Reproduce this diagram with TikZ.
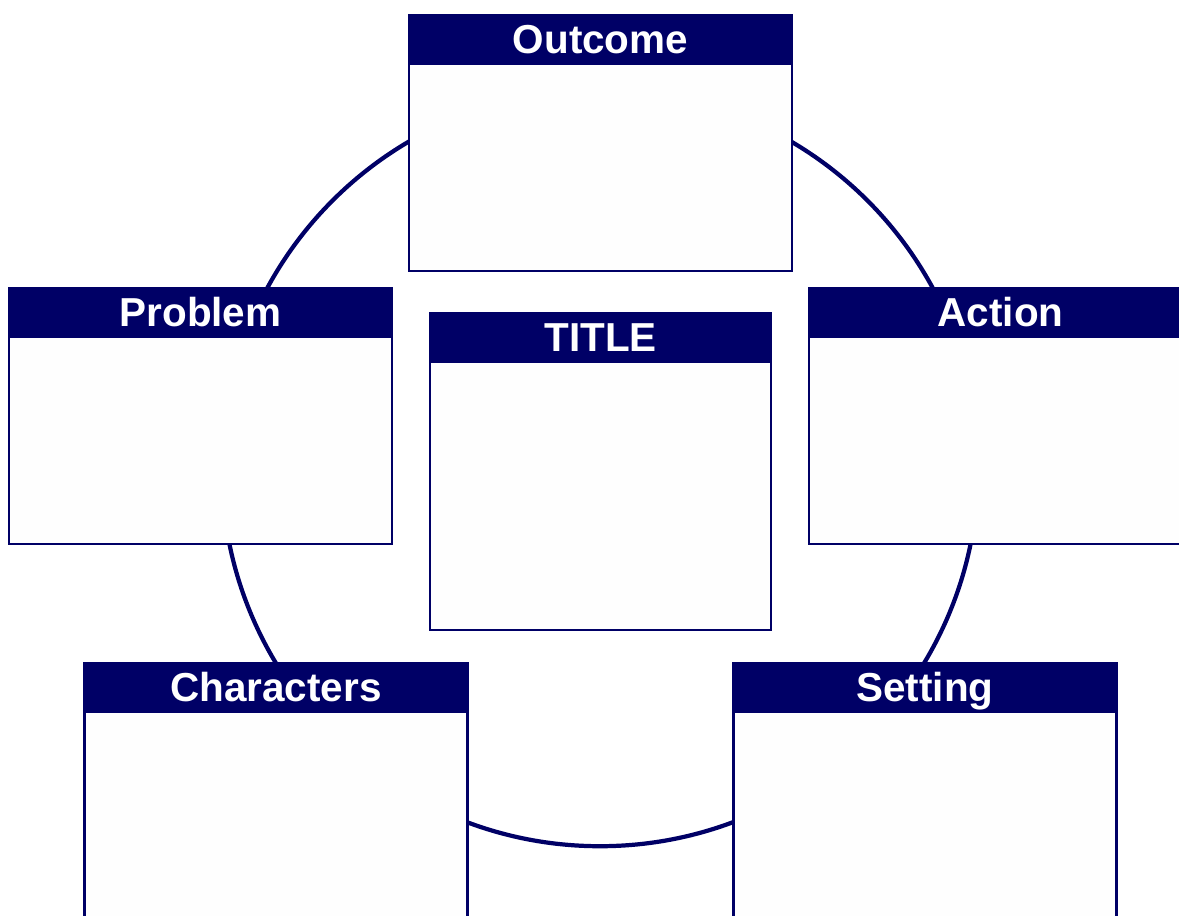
\documentclass[tikz,border=0pt]{standalone}
\usepackage{fontspec}
\setmainfont{Liberation Sans}
\definecolor{navy}{RGB}{0,0,102}
\begin{document}
\begin{tikzpicture}[x=0.01cm, y=-0.01cm,
ringline/.style={circle, draw=navy, line width=1.2pt, minimum size=7.56cm},
panel/.style={rectangle, draw=navy, line width=0.7pt, fill=white!99.5!black, minimum width=3.83cm, minimum height=2.56cm},
headbar/.style={rectangle, draw=navy, fill=navy, line width=0.7pt, text=white, font=\bfseries\fontsize{11.5}{12}\selectfont, minimum width=3.83cm, minimum height=0.49cm, text height=0.37cm, text depth=0.08cm, inner sep=0pt, anchor=north},
]
\clip (0,0) rectangle (1179,916);
%Ring
\node[ringline](ring) at(600,468) {};
%Panels
\node[panel](outcome) at(600.5,143) {};
\node[panel](problem) at(200.5,416) {};
\node[panel](action) at(1000.5,416) {};
\node[panel, minimum width=3.41cm, minimum height=3.17cm](title) at(600.5,471.5) {};
\node[panel](characters) at(276,791) {};
\node[panel](setting) at(925,791) {};
%Headers
\node[headbar](outcomeHead) at(outcome.north) {Outcome};
\node[headbar](problemHead) at(problem.north) {Problem};
\node[headbar](actionHead) at(action.north) {Action};
\node[headbar, minimum width=3.41cm](titleHead) at(title.north) {TITLE};
\node[headbar](charactersHead) at(characters.north) {Characters};
\node[headbar](settingHead) at(setting.north) {Setting};
\end{tikzpicture}
\end{document}
